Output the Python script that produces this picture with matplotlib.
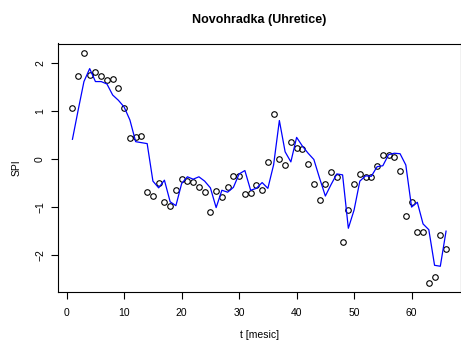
import numpy as np
import matplotlib.pyplot as plt

plt.rcParams['font.family'] = ['Liberation Sans', 'DejaVu Sans']

# data
#
t = np.arange(1, 67)

spi_obs = [1.06, 1.73, 2.21, 1.75, 1.80, 1.73, 1.64, 1.66, 1.47, 1.07,
           0.44, 0.45, 0.47, -0.69, -0.76, -0.49, -0.90, -0.97, -0.65, -0.41,
           -0.45, -0.47, -0.58, -0.69, -1.10, -0.67, -0.79, -0.58, -0.35, -0.35,
           -0.73, -0.71, -0.54, -0.65, -0.06, 0.94, 0.00, -0.12, 0.35, 0.23,
           0.21, -0.10, -0.52, -0.85, -0.52, -0.28, -0.37, -1.72, -1.06, -0.51,
           -0.32, -0.37, -0.38, -0.15, 0.08, 0.09, 0.05, -0.25, -1.18, -0.90,
           -1.52, -1.51, -2.58, -2.46, -1.59, -1.88]

spi_fit = [0.41, 1.02, 1.61, 1.88, 1.61, 1.61, 1.56, 1.33, 1.22, 1.08,
           0.81, 0.36, 0.34, 0.32, -0.46, -0.60, -0.44, -0.89, -0.97, -0.51,
           -0.37, -0.42, -0.37, -0.46, -0.60, -1.01, -0.65, -0.69, -0.59, -0.31,
           -0.24, -0.65, -0.61, -0.49, -0.61, -0.12, 0.80, 0.15, -0.06, 0.45,
           0.27, 0.12, -0.01, -0.40, -0.77, -0.53, -0.31, -0.33, -1.44, -1.06,
           -0.46, -0.35, -0.36, -0.16, -0.14, 0.09, 0.12, 0.11, -0.125, -1.00,
           -0.90, -1.35, -1.47, -2.21, -2.23, -1.50]

xticks = [0, 10, 20, 30, 40, 50, 60]
yticks = [-2, -1, 0, 1, 2]

# plot
#
fig = plt.figure(figsize=(4.61, 3.43), dpi=100)
ax = fig.add_axes([57.5 / 461, (343 - 292.3) / 343, (461 - 57.5) / 461, (292.3 - 43.5) / 343])

ax.plot(t, spi_obs, 'o', mfc='none', mec='black', ms=4.0, mew=0.8)
ax.plot(t, spi_fit, color='blue', linewidth=0.9)

ax.margins(x=0.04, y=0.04)
ax.set_xticks(xticks)
ax.set_yticks(yticks)
ax.tick_params(direction='out', length=5, width=0.8, labelsize=7.5)
ax.tick_params(axis='x', pad=6)
ax.tick_params(axis='y', pad=4)
plt.setp(ax.get_yticklabels(), rotation=90, va='center')
for s in ax.spines.values():
    s.set_linewidth(0.8)

# label
#
ax.set_xlabel('t [mesic]', fontsize=7.5, labelpad=9)
ax.set_ylabel('SPI', fontsize=7.5, labelpad=10)
fig.text((57.5 + 461) / 2 / 461, 1 - 20 / 343, 'Novohradka (Uhretice)',
         ha='center', va='center', fontsize=9, fontweight='bold')

# output
#
fig.savefig('out.png', dpi=100)
